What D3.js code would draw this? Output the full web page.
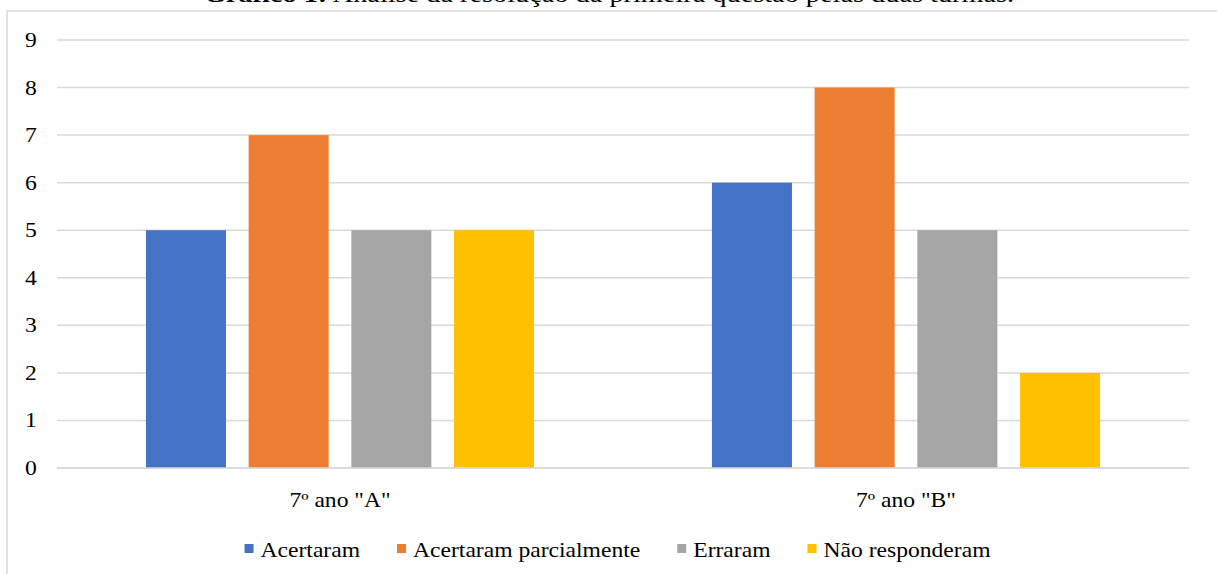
<!DOCTYPE html>
<html>
<head>
<meta charset="utf-8">
<script src="https://cdn.jsdelivr.net/npm/d3@7"></script>
<style>
  body { margin: 0; background: #fff; }
  text { font-family: "Liberation Serif", "Times New Roman", serif; fill: #000; }
</style>
</head>
<body>
<script>
// data
var turmas = ['7º ano "A"', '7º ano "B"'];
var series = ["Acertaram", "Acertaram parcialmente", "Erraram", "Não responderam"];
var acertaram = [5, 6];
var parcial = [7, 8];
var erraram = [5, 5];
var naoResp = [5, 2];
var yTicks = [0, 1, 2, 3, 4, 5, 6, 7, 8, 9];
var colors = ["#4472C4", "#ED7D31", "#A5A5A5", "#FFC000"];

var w = 1217, h = 574;
var sx = 1.18; // text in the source is a bit stretched sideways

var svg = d3.select("body").append("svg")
    .attr("width", w)
    .attr("height", h);

// chart frame (only top and left edges are inside the picture)
svg.append("rect")
    .attr("x", 7).attr("y", 11)
    .attr("width", w + 20).attr("height", h + 20)
    .style("fill", "none")
    .style("stroke", "#d9d9d9")
    .style("stroke-width", 1.5);

// stretched text helper
function label(g, x, y, txt, anchor, size) {
    return g.append("text")
        .attr("transform", "translate(" + x + "," + y + ") scale(" + sx + ",1)")
        .attr("text-anchor", anchor)
        .style("font-size", size + "px")
        .text(txt);
}

// title, cut off at the top
var title = svg.append("text")
    .attr("transform", "translate(609,2) scale(" + sx + ",1)")
    .attr("text-anchor", "middle")
    .style("font-size", "24px");
title.append("tspan").style("font-weight", "bold").text("Gráfico 1:");
title.append("tspan").text(" Análise da resolução da primeira questão pelas duas turmas.");

var y = d3.scaleLinear()
    .domain([0, 9])
    .range([468, 40]);

var x0 = d3.scaleBand()
    .domain(turmas)
    .range([57, 1189]);

var x1 = d3.scaleBand()
    .domain(series)
    .range([0, x0.bandwidth()])
    .paddingInner(0.221)
    .paddingOuter(0.866);

// gridlines
svg.selectAll(".grid")
    .data(yTicks)
    .enter()
    .append("line")
    .attr("class", "grid")
    .attr("x1", 57).attr("x2", 1189)
    .attr("y1", function(d){ return y(d); })
    .attr("y2", function(d){ return y(d); })
    .style("stroke", "#d9d9d9")
    .style("stroke-width", 1.5);

// y tick labels
yTicks.forEach(function(d){
    label(svg, 31, y(d) + 7, d, "middle", 20);
});

// bars
var table = turmas.map(function(t, i){
    return { turma: t, values: [acertaram[i], parcial[i], erraram[i], naoResp[i]] };
});

var groups = svg.selectAll(".grp")
    .data(table)
    .enter()
    .append("g")
    .attr("class", "grp")
    .attr("transform", function(d){ return "translate(" + x0(d.turma) + ",0)"; });

groups.selectAll("rect")
    .data(function(d){
        return d.values.map(function(v, i){ return { s: series[i], v: v, c: colors[i] }; });
    })
    .enter()
    .append("rect")
    .attr("x", function(d){ return x1(d.s); })
    .attr("width", x1.bandwidth())
    .attr("y", function(d){ return y(d.v); })
    .attr("height", function(d){ return y(0) - y(d.v); })
    .style("fill", function(d){ return d.c; });

// zero line on top of the bars
svg.append("line")
    .attr("x1", 57).attr("x2", 1189)
    .attr("y1", y(0)).attr("y2", y(0))
    .style("stroke", "#d9d9d9")
    .style("stroke-width", 1.5);

// category labels
turmas.forEach(function(t){
    label(svg, x0(t) + x0.bandwidth() / 2, 507, t, "middle", 20);
});

// legend
var legend = svg.append("g");
var lx = 0, gap = 37;
series.forEach(function(s, i){
    legend.append("rect")
        .attr("x", lx).attr("y", 544)
        .attr("width", 9).attr("height", 9)
        .style("fill", colors[i]);
    var t = label(legend, lx + 16, 557, s, "start", 20);
    lx += 16 + t.node().getComputedTextLength() * sx + gap;
});
lx -= gap;
legend.attr("transform", "translate(" + (617.5 - lx / 2) + ",0)");
</script>
</body>
</html>
